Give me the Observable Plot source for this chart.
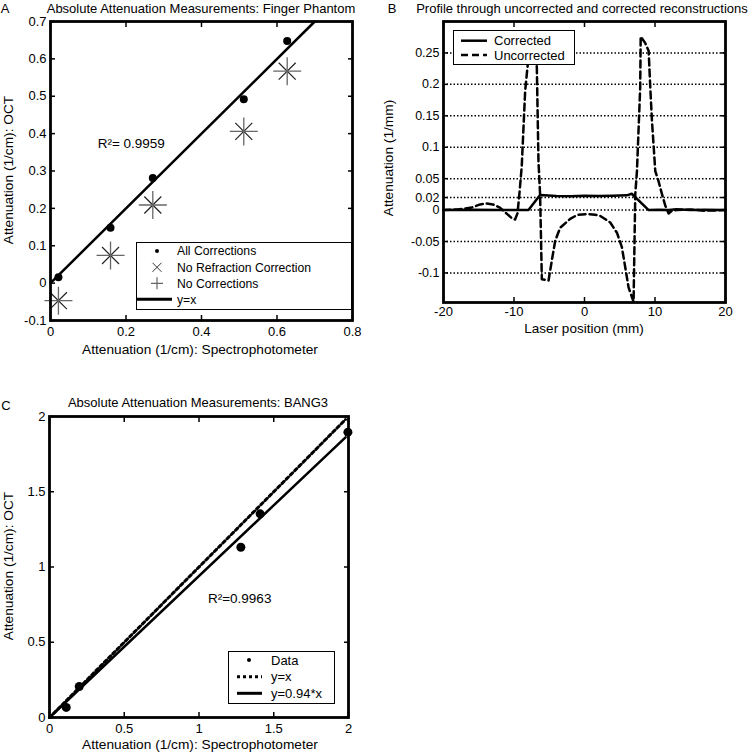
<!DOCTYPE html>
<html><head><meta charset="utf-8">
<script src="https://cdn.jsdelivr.net/npm/d3@7"></script>
<script src="https://cdn.jsdelivr.net/npm/@observablehq/plot@0.6"></script>
<style>
body{margin:0;background:#fff;}
#fig{position:relative;width:750px;height:756px;font-family:"Liberation Sans",Arial,sans-serif;color:#000;overflow:hidden;background:#fff;}
.t{position:absolute;white-space:nowrap;line-height:1;font-size:13px;}
.panel{position:absolute;}
.legend{position:absolute;}
</style></head><body><div id="fig"></div>
<script>
// ---------- Panel A: Finger phantom ----------
const specA = [0.021, 0.159, 0.271, 0.512, 0.627];
const octAllCorr = [0.016, 0.148, 0.281, 0.492, 0.648];
const octNoRefraction = [-0.047, 0.074, 0.209, 0.406, 0.567];
const octNoCorr = [-0.047, 0.074, 0.209, 0.406, 0.567];
const identityA = [0, 0.7];
const ticksAx = [0, 0.2, 0.4, 0.6, 0.8];
const ticksAy = [-0.1, 0, 0.1, 0.2, 0.3, 0.4, 0.5, 0.6, 0.7];
const r2A = [{x: 0.125, y: 0.374, text: "R²= 0.9959"}];
const legendA = ["All Corrections", "No Refraction Correction", "No Corrections", "y=x"];

// ---------- Panel B: profile ----------
const posUnc = [-20,-18,-16,-14.8,-13.9,-13,-12,-11,-10.3,-9.85,-9.5,-9.2,-8.9,-8.42,-8.1,-7.7,-7.3,-6.95,-6.76,-6.53,-6.3,-6.05,-5.1,-4.63,-4.16,-3.45,-2.03,-1,0.57,1.5,2.2,3.65,4.6,5.3,5.78,6.25,6.96,7.2,7.44,7.9,7.97,8.6,9.1,9.33,9.57,10.04,10.5,11.0,11.46,11.93,12.4,13.1,15,17,20];
const attUnc = [0,0.001,0.004,0.009,0.0105,0.009,0.004,-0.006,-0.013,-0.015,-0.005,0.03,0.07,0.189,0.226,0.27,0.28,0.27,0.226,0.078,0.025,-0.11,-0.112,-0.08,-0.049,-0.028,-0.014,-0.0075,-0.0064,-0.0075,-0.009,-0.0197,-0.036,-0.059,-0.091,-0.123,-0.146,0.025,0.062,0.195,0.276,0.266,0.253,0.195,0.142,0.062,0.046,0.025,0.007,-0.0054,-0.001,0,0.001,-0.001,0];
const posCorr = [-20,-16,-12,-10,-7.95,-6.3,-4,-2,0,2,4,6,6.7,9.1,10.5,12,13,15,17,20];
const attCorr = [0,0.0005,0,0.0003,0,0.024,0.0225,0.022,0.023,0.0225,0.023,0.0235,0.026,0,0.0005,0,0.0012,0,0.0005,0];
const ticksBx = [-20, -10, 0, 10, 20];
const ticksBy = [-0.1, -0.05, 0, 0.02, 0.05, 0.1, 0.15, 0.2, 0.25];
const legendB = ["Corrected", "Uncorrected"];

// ---------- Panel C: BANG3 ----------
const specC = [0.112, 0.199, 1.28, 1.409, 1.996];
const octC = [0.067, 0.206, 1.131, 1.353, 1.896];
const fitSlope = 0.94;
const fitRange = [0, 1.98];
const ticksC = [0, 0.5, 1, 1.5, 2];
const r2C = [{x: 1.06, y: 0.79, text: "R²=0.9963"}];
const legendC = ["Data", "y=x", "y=0.94*x"];

const fmt = d => String(+d.toFixed(2));
const FONT = "Liberation Sans, Arial, sans-serif";
const fig = document.getElementById("fig");

const plusSym = {draw(ctx, size){const r = Math.sqrt(size/Math.PI); ctx.moveTo(-r,0); ctx.lineTo(r,0); ctx.moveTo(0,-r); ctx.lineTo(0,r);}};
const timesSym = {draw(ctx, size){const r = Math.sqrt(size/Math.PI)/Math.SQRT2; ctx.moveTo(-r,-r); ctx.lineTo(r,r); ctx.moveTo(-r,r); ctx.lineTo(r,-r);}};

function axes(tx, ty, padX, padY, yFont) {
  return [
    Plot.axisX({anchor: "bottom", ticks: tx, tickSize: -5, tickPadding: padX, tickFormat: fmt, label: null, strokeWidth: 1.5}),
    Plot.axisX({anchor: "top", ticks: tx, tickSize: -5, tickFormat: () => "", label: null, strokeWidth: 1.5}),
    Plot.axisY({anchor: "left", ticks: ty, tickSize: -5, tickPadding: padY, tickFormat: fmt, label: null, strokeWidth: 1.5, fontSize: yFont || 13}),
    Plot.axisY({anchor: "right", ticks: ty, tickSize: -5, tickFormat: () => "", label: null, strokeWidth: 1.5})
  ];
}
const style = {fontFamily: FONT, fontSize: "13px", color: "#000", background: "transparent", overflow: "visible"};

function place(el, left, top) {
  const d = document.createElement("div");
  d.className = "panel"; d.style.left = left + "px"; d.style.top = top + "px";
  d.appendChild(el); fig.appendChild(d);
}
function text(str, x, y, opts = {}) {
  const d = document.createElement("div");
  d.className = "t"; d.textContent = str;
  d.style.left = x + "px"; d.style.top = y + "px";
  d.style.fontSize = (opts.size || 13) + "px";
  d.style.transform = "translate(-50%,-50%)" + (opts.rotate ? " rotate(" + opts.rotate + "deg)" : "");
  fig.appendChild(d);
}

// Panel A
const dataA = specA.map((x, i) => ({x, all: octAllCorr[i], nr: octNoRefraction[i], nc: octNoCorr[i]}));
place(Plot.plot({
  width: 375, height: 375, marginLeft: 50, marginRight: 23, marginTop: 21, marginBottom: 55,
  x: {domain: [0, 0.8]}, y: {domain: [-0.1, 0.7]}, style,
  marks: [
    ...axes(ticksAx, ticksAy, 11, 9),
    Plot.line(identityA, {x: d => d, y: d => d, stroke: "#000", strokeWidth: 2.5}),
    Plot.dot(dataA, {x: "x", y: "all", r: 4, fill: "#000", stroke: "none"}),
    Plot.dot(dataA, {x: "x", y: "nr", r: 12, symbol: timesSym, stroke: "#222", strokeWidth: 1.2, fill: "none"}),
    Plot.dot(dataA, {x: "x", y: "nc", r: 14, symbol: plusSym, stroke: "#666", strokeWidth: 1.3, fill: "none"}),
    Plot.text(r2A, {x: "x", y: "y", text: "text", textAnchor: "start", fontSize: 13.5}),
    Plot.frame({stroke: "#000", strokeWidth: 2.8})
  ]
}), 0, 0);

// Panel B
const uncData = posUnc.map((x, i) => ({x, y: attUnc[i]}));
const corrData = posCorr.map((x, i) => ({x, y: attCorr[i]}));
place(Plot.plot({
  width: 375, height: 375, marginLeft: 68, marginRight: 25, marginTop: 21, marginBottom: 73,
  x: {domain: [-20, 20]}, y: {domain: [-0.147, 0.3]}, style,
  marks: [
    Plot.ruleY(ticksBy, {stroke: "#000", strokeWidth: 1.5, strokeDasharray: "1.5,2"}),
    ...axes(ticksBx, ticksBy, 9, 9, 12.5),
    Plot.line(uncData, {x: "x", y: "y", stroke: "#000", strokeWidth: 2.5, strokeDasharray: "7,4", curve: "linear"}),
    Plot.line(corrData, {x: "x", y: "y", stroke: "#000", strokeWidth: 2.5}),
    Plot.frame({stroke: "#000", strokeWidth: 2.8})
  ]
}), 375, 0);

// Panel C
const dataC = specC.map((x, i) => ({x, y: octC[i]}));
place(Plot.plot({
  width: 375, height: 381, marginLeft: 49, marginRight: 27, marginTop: 41, marginBottom: 39,
  x: {domain: [0, 2]}, y: {domain: [0, 2]}, style,
  marks: [
    ...axes(ticksC, ticksC, 11, 9),
    Plot.line(fitRange, {x: d => d, y: d => d, stroke: "#000", strokeWidth: 3, strokeDasharray: "3,3"}),
    Plot.line(fitRange, {x: d => d, y: d => d * fitSlope, stroke: "#000", strokeWidth: 2.5}),
    Plot.dot(dataC, {x: "x", y: "y", r: 4.5, fill: "#000", stroke: "none"}),
    Plot.text(r2C, {x: "x", y: "y", text: "text", textAnchor: "start", fontSize: 13.5}),
    Plot.frame({stroke: "#000", strokeWidth: 2.8})
  ]
}), 0, 375);

// Titles, panel letters, axis labels
text("A", 5, 8); text("B", 392, 8); text("C", 6, 405);
text("Absolute Attenuation Measurements: Finger Phantom", 201, 8);
text("Profile through uncorrected and corrected reconstructions", 582, 8);
text("Absolute Attenuation Measurements: BANG3", 198, 402);
text("Attenuation (1/cm): Spectrophotometer", 200, 350, {size: 13.7});
text("Attenuation (1/cm): OCT", 9, 170, {rotate: -90, size: 13.7});
text("Laser position (mm)", 584, 328.5, {size: 13.5});
text("Attenuation (1/mm)", 389, 158, {rotate: -90, size: 13.7});
text("Attenuation (1/cm): Spectrophotometer", 200, 745, {size: 13.7});
text("Attenuation (1/cm): OCT", 9, 566, {rotate: -90, size: 13.7});

// Legends
const NS = "http://www.w3.org/2000/svg";
function legend(left, top, w, h, rows, textX, fs) {
  const svg = document.createElementNS(NS, "svg");
  svg.setAttribute("width", w); svg.setAttribute("height", h);
  svg.setAttribute("class", "legend");
  svg.style.left = left + "px"; svg.style.top = top + "px";
  let s = `<rect x="0.5" y="0.5" width="${w-1}" height="${h-1}" fill="#fff" stroke="#000" stroke-width="1"/>`;
  rows.forEach(r => {
    s += r.sym;
    s += `<text x="${textX}" y="${r.y}" dy="0.35em" font-family="${FONT}" font-size="${fs}">${r.label}</text>`;
  });
  svg.innerHTML = s;
  fig.appendChild(svg);
}
const cxA = 21;
legend(136, 242, 216, 68, [
  {y: 9, label: legendA[0], sym: `<circle cx="${cxA}" cy="9" r="2" fill="#000"/>`},
  {y: 25.3, label: legendA[1], sym: `<path d="M${cxA-4.5},20.8L${cxA+4.5},29.8M${cxA-4.5},29.8L${cxA+4.5},20.8" stroke="#333" stroke-width="1"/>`},
  {y: 41.3, label: legendA[2], sym: `<path d="M${cxA-6},41.3H${cxA+6}M${cxA},35.3V47.3" stroke="#666" stroke-width="1.2"/>`},
  {y: 57.3, label: legendA[3], sym: `<path d="M1,57.3H36" stroke="#000" stroke-width="3"/>`}
], 41, 12.2);
legend(453, 30, 122, 35, [
  {y: 10.7, label: legendB[0], sym: `<path d="M8,10.7H34" stroke="#000" stroke-width="2.5"/>`},
  {y: 25, label: legendB[1], sym: `<path d="M8,25H34" stroke="#000" stroke-width="2.5" stroke-dasharray="7,4"/>`}
], 41, 13);
legend(228, 651, 107, 53, [
  {y: 9, label: legendC[0], sym: `<circle cx="21" cy="9" r="2" fill="#000"/>`},
  {y: 25.7, label: legendC[1], sym: `<path d="M9,25.7H34" stroke="#000" stroke-width="3" stroke-dasharray="3,3"/>`},
  {y: 42.3, label: legendC[2], sym: `<path d="M9,42.3H34" stroke="#000" stroke-width="3"/>`}
], 43, 13);
</script></body></html>
